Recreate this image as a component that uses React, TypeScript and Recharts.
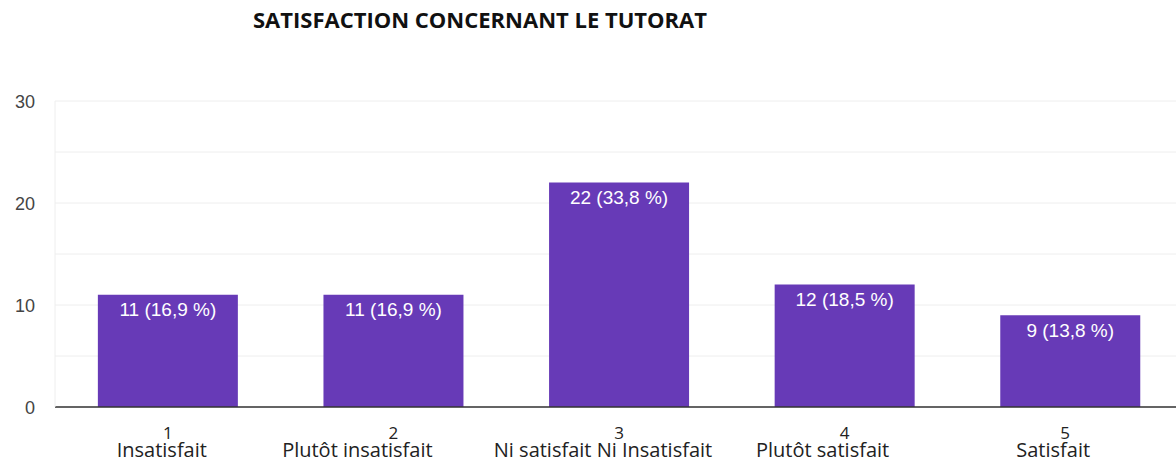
import React from 'react'
import { BarChart, Bar, XAxis, YAxis, CartesianGrid, LabelList } from 'recharts'

// Satisfaction concernant le tutorat

const categories = ['1', '2', '3', '4', '5']
const categoryLabels = ['Insatisfait', 'Plutôt insatisfait', 'Ni satisfait Ni Insatisfait', 'Plutôt satisfait', 'Satisfait']
const counts = [11, 11, 22, 12, 9]
const percents = ['16,9', '16,9', '33,8', '18,5', '13,8']
const yTicks = [0, 5, 10, 15, 20, 25, 30]
const yLabelled = [0, 10, 20, 30]

const chartData = categories.map((c, i) => ({
  name: c,
  sub: categoryLabels[i],
  value: counts[i],
  label: `${counts[i]} (${percents[i]} %)`,
}))

// the captions under the numbers sit a bit left of the bar centre in the original
const captionShift = [-6, -36, -16, -22, -17]
const numberShift = [0, 0, 0, 0, -5]

const YTick = (props: any) => {
  const { x, y, payload } = props
  if (!yLabelled.includes(payload.value)) return null
  return (
    <text x={x} y={y} dy={7} textAnchor="end" fill="#444" fontSize={18} fontFamily="Arial, 'Liberation Sans', sans-serif">
      {payload.value}
    </text>
  )
}

const XTick = (props: any) => {
  const { x, y, index } = props
  return (
    <g fontFamily="'Open Sans', sans-serif" fill="#222">
      <text x={x + numberShift[index]} y={y + 24} textAnchor="middle" fontSize={17}>
        {categories[index]}
      </text>
      <text x={x + captionShift[index]} y={y + 42} textAnchor="middle" fontSize={20}>
        {categoryLabels[index]}
      </text>
    </g>
  )
}

export default function App() {
  return (
    <div style={{ position: 'absolute', left: 0, top: 0, width: 1176, height: 462, overflow: 'hidden', background: '#fff' }}>
      <div
        style={{
          position: 'absolute',
          left: 0,
          top: 4,
          width: 960,
          textAlign: 'center',
          fontFamily: "'Open Sans', sans-serif",
          fontWeight: 700,
          fontSize: 22,
          color: '#111',
        }}
      >
        SATISFACTION CONCERNANT LE TUTORAT
      </div>
      <BarChart
        width={1183}
        height={462}
        data={chartData}
        margin={{ top: 101, right: 0, left: 0, bottom: 0 }}
        barCategoryGap="19%"
      >
        <CartesianGrid vertical={false} stroke="#eeeeee" />
        <XAxis
          dataKey="name"
          height={55}
          tickLine={false}
          axisLine={{ stroke: '#333', strokeWidth: 1.5 }}
          tick={<XTick />}
          interval={0}
        />
        <YAxis
          width={55}
          domain={[0, 30]}
          ticks={yTicks}
          interval={0}
          tickSize={0}
          tickMargin={20}
          tickLine={false}
          axisLine={{ stroke: '#eeeeee' }}
          tick={<YTick />}
        />
        <Bar dataKey="value" fill="#673ab7" isAnimationActive={false}>
          <LabelList
            dataKey="label"
            position="insideTop"
            offset={8}
            fill="#ffffff"
            fontSize={19}
            fontFamily="Arial, 'Liberation Sans', sans-serif"
          />
        </Bar>
      </BarChart>
    </div>
  )
}
